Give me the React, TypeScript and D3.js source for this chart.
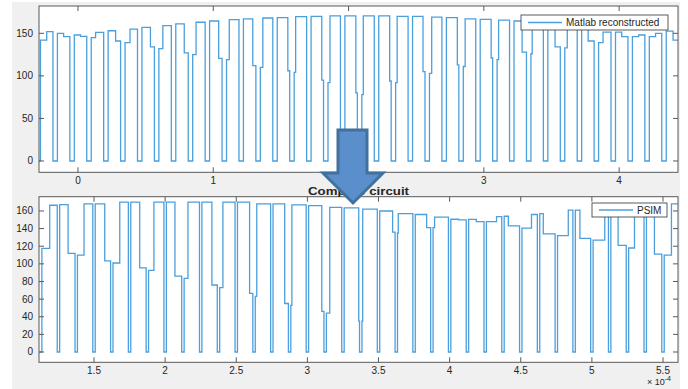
import React from 'react';
import * as d3 from 'd3';

// ---------- Top panel: "Matlab reconstructed" ----------
// start times of the zero-level gaps (x axis units of the top panel)
const topLowStarts = [-0.31, -0.185, -0.06, 0.065, 0.19, 0.315, 0.44, 0.565, 0.69, 0.815, 0.94, 1.065, 1.19,
  1.315, 1.44, 1.565, 1.69, 1.815, 1.94, 2.065, 2.19, 2.315, 2.44, 2.565, 2.69, 2.815, 2.94, 3.065, 3.19,
  3.315, 3.44, 3.565, 3.69, 3.815, 3.94, 4.065, 4.19, 4.315, 4.44];
const topLowWidth = 0.033;
// level at the start / end of each high pulse, and where inside the pulse the level changes
const topStart = [142, 150, 148, 145, 153, 139, 157, 132, 161, 125, 164.5, 119, 167, 110, 168.5, 104, 170, 92,
  170.5, 78, 170.5, 92, 170, 103, 168.5, 111, 166.5, 119, 164.5, 126, 161.5, 133, 158, 139, 151.5, 146, 146, 152.5];
const topEnd = [152, 146, 146.5, 151, 141, 155, 134, 159, 127, 163, 120.5, 166, 112, 168, 106, 169.5, 95, 170.5,
  80, 170.5, 94, 170, 105, 169, 113, 167, 121, 165.5, 128, 163, 134, 160, 141, 151.5, 146, 148, 150, 142];
const topSplit = [0.5, 0.5, 0.5, 0.35, 0.6, 0.4, 0.68, 0.32, 0.68, 0.27, 0.73, 0.22, 0.75, 0.2, 0.85, 0.12, 0.86,
  0.16, 0.88, 0.12, 0.88, 0.12, 0.84, 0.18, 0.88, 0.15, 0.88, 0.12, 0.65, 0.1, 0.58, 0.2, 0.52, 0.36, 0.5, 0.5, 0.5, 0.55];

// ---------- Bottom panel: "PSIM" ----------
// centres of the narrow zero dips (x 1e-4)
const bottomDips = [1.125, 1.25, 1.375, 1.5, 1.625, 1.75, 1.875, 2.0, 2.125, 2.25, 2.375, 2.5, 2.625, 2.75,
  2.875, 3.0, 3.125, 3.25, 3.375, 3.5, 3.625, 3.75, 3.875, 4.0, 4.125, 4.25, 4.375, 4.5, 4.625, 4.75, 4.875,
  5.0, 5.125, 5.25, 5.375, 5.5, 5.625];
const bottomDipWidth = 0.017;
const bottomStart = [117.5, 167.3, 110, 168, 101, 170, 92.5, 170, 83.5, 170, 73, 170, 63, 168, 53, 166, 44, 163.5,
  35, 160, 135, 156, 141, 150.6, 150.4, 147.9, 154, 140.6, 157, 132, 161, 127, 164.5, 118, 167, 110];
const bottomEnd = [166.5, 111.8, 168, 103.4, 170, 95.5, 170, 86, 170, 76, 170, 66.5, 168, 55, 167, 46, 164, 35,
  162, 136, 157, 141, 153, 150, 148, 153.5, 143, 156, 134, 161, 129, 164, 121, 166, 111, 168];
const bottomSplit = [0.51, 0.55, 0.43, 0.62, 0.44, 0.58, 0.35, 0.56, 0.25, 0.65, 0.21, 0.79, 0.1, 0.76, 0.07, 0.86,
  0.22, 0.95, 0.05, 0.84, 0.05, 0.74, 0.1, 0.5, 0.5, 0.66, 0.27, 0.62, 0.23, 0.7, 0.3, 0.76, 0.47, 0.38, 0.52, 0.47];

// ---------- Axes ticks & labels ----------
const topXTicks = [0, 1, 2, 3, 4];
const topYTicks = [0, 50, 100, 150];
const bottomXTicks = [1.5, 2, 2.5, 3, 3.5, 4, 4.5, 5, 5.5];
const bottomYTicks = [0, 20, 40, 60, 80, 100, 120, 140, 160];
const topLegend = 'Matlab reconstructed';
const bottomLegend = 'PSIM';
const bottomTitle = 'Compare circuit';

const LINE = '#4a9fdc';
const AX = '#595959';
const TXT = '#262626';
const FONT = '"Liberation Sans", Arial, Helvetica, sans-serif';

function topPoints(): [number, number][] {
  const pts: [number, number][] = [[topLowStarts[0], 0]];
  for (let j = 0; j < topStart.length; j++) {
    const s = topLowStarts[j] + topLowWidth;
    const e = topLowStarts[j + 1];
    const t = s + (e - s) * topSplit[j];
    pts.push([s, topStart[j]], [t, topEnd[j]], [e, 0]);
  }
  pts.push([topLowStarts[topLowStarts.length - 1] + topLowWidth, 0]);
  return pts;
}

function bottomPoints(): [number, number][] {
  const hw = bottomDipWidth / 2;
  const pts: [number, number][] = [[bottomDips[0] - hw, 0]];
  for (let j = 0; j < bottomStart.length; j++) {
    const s = bottomDips[j] + hw;
    const e = bottomDips[j + 1] - hw;
    const t = s + (e - s) * bottomSplit[j];
    pts.push([s, bottomStart[j]], [t, bottomEnd[j]], [e, 0]);
  }
  pts.push([bottomDips[bottomDips.length - 1] + hw, 0]);
  return pts;
}

type Lin = d3.ScaleLinear<number, number>;

function Axes({ x, y, xTicks, yTicks, fmt }: { x: Lin; y: Lin; xTicks: number[]; yTicks: number[]; fmt: (v: number) => string }) {
  const [x0, x1] = x.range();
  const [y1, y0] = y.range();
  const tl = 5;
  return (
    <g>
      {xTicks.map((v) => (
        <g key={'x' + v}>
          <line x1={x(v)} x2={x(v)} y1={y1} y2={y1 - tl} stroke={AX} strokeWidth={1} />
          <line x1={x(v)} x2={x(v)} y1={y0} y2={y0 + tl} stroke={AX} strokeWidth={1} />
          <text x={x(v)} y={y1 + 11.5} textAnchor="middle" fontSize={10} fill={TXT} fontFamily={FONT}>{fmt(v)}</text>
        </g>
      ))}
      {yTicks.map((v) => (
        <g key={'y' + v}>
          <line x1={x0} x2={x0 + tl} y1={y(v)} y2={y(v)} stroke={AX} strokeWidth={1} />
          <line x1={x1} x2={x1 - tl} y1={y(v)} y2={y(v)} stroke={AX} strokeWidth={1} />
          <text x={33} y={y(v) + 3.5} textAnchor="end" fontSize={10} fill={TXT} fontFamily={FONT}>{v}</text>
        </g>
      ))}
      <rect x={x0} y={y0} width={x1 - x0} height={y1 - y0} fill="none" stroke={AX} strokeWidth={1} />
    </g>
  );
}

export default function App() {
  const topX = d3.scaleLinear().domain([-0.288, 4.435]).range([39, 678]);
  const topY = d3.scaleLinear().domain([-13.3, 182.1]).range([172.3, 6]);
  const botX = d3.scaleLinear().domain([1.1133, 5.6054]).range([39, 678]);
  const botY = d3.scaleLinear().domain([-11.7, 176.2]).range([362.3, 196.7]);

  const topLine = d3.line<[number, number]>().x((d) => topX(d[0])).y((d) => topY(d[1])).curve(d3.curveStepAfter);
  const botLine = d3.line<[number, number]>().x((d) => botX(d[0])).y((d) => botY(d[1])).curve(d3.curveStepAfter);

  return (
    <svg width={688} height={389} style={{ position: 'absolute', left: 0, top: 0, background: '#ffffff' }}>
      <defs>
        <clipPath id="clipTop"><rect x={39} y={6} width={639} height={166.3} /></clipPath>
        <clipPath id="clipBot"><rect x={39} y={196.7} width={639} height={165.6} /></clipPath>
      </defs>
      <rect x={12} y={2} width={668} height={387} fill="#f0f0f0" />

      {/* top panel */}
      <rect x={39} y={6} width={639} height={166.3} fill="#ffffff" />
      <path d={topLine(topPoints()) || ''} fill="none" stroke={LINE} strokeWidth={1.3} clipPath="url(#clipTop)" />
      <Axes x={topX} y={topY} xTicks={topXTicks} yTicks={topYTicks} fmt={(v) => String(v)} />
      <rect x={521} y={15} width={147} height={15} fill="#ffffff" stroke="#333333" strokeWidth={0.8} />
      <line x1={528} x2={562} y1={22.5} y2={22.5} stroke={LINE} strokeWidth={1.3} />
      <text x={566} y={26.2} fontSize={10} fill={TXT} fontFamily={FONT}>{topLegend}</text>

      {/* bottom panel */}
      <rect x={39} y={196.7} width={639} height={165.6} fill="#ffffff" />
      <path d={botLine(bottomPoints()) || ''} fill="none" stroke={LINE} strokeWidth={1.3} clipPath="url(#clipBot)" />
      <Axes x={botX} y={botY} xTicks={bottomXTicks} yTicks={bottomYTicks} fmt={(v) => String(v)} />
      <rect x={592} y={203} width={75} height={14} fill="#ffffff" stroke="#333333" strokeWidth={0.8} />
      <line x1={599} x2={633} y1={210} y2={210} stroke={LINE} strokeWidth={1.3} />
      <text x={637} y={214} fontSize={10} fill={TXT} fontFamily={FONT}>{bottomLegend}</text>
      <text x={358.5} y={194.5} textAnchor="middle" fontSize={11.5} fontWeight="bold" fill={TXT} fontFamily={FONT}
        textLength={101} lengthAdjust="spacingAndGlyphs">{bottomTitle}</text>
      <text x={647} y={385} fontSize={9} fill={TXT} fontFamily={FONT}>
        {'\u00d7 10'}<tspan dy={-4} fontSize={7}>{'-4'}</tspan>
      </text>

      {/* arrow annotation */}
      <path d="M338,130 L367,130 L367,173 L383,173 L353,203 L323,173 L338,173 Z" fill="#5b8fcc" stroke="#41719c" strokeWidth={3} strokeLinejoin="miter" />
    </svg>
  );
}
